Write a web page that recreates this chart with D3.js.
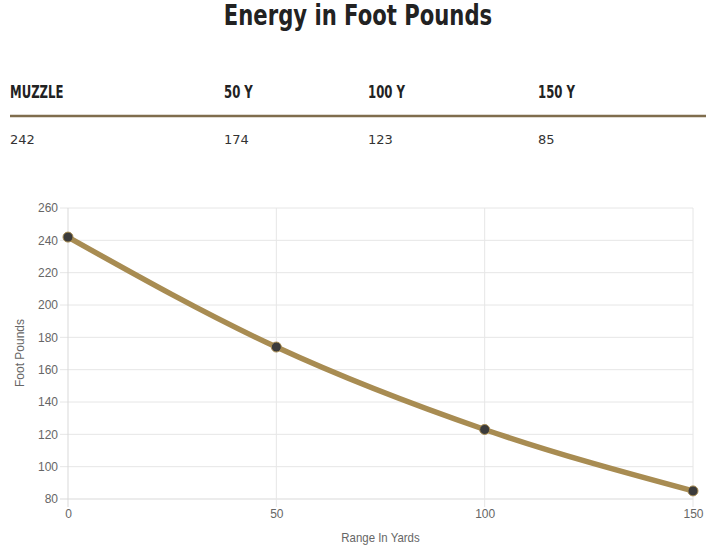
<!DOCTYPE html>
<html>
<head>
<meta charset="utf-8">
<script src="https://cdn.jsdelivr.net/npm/d3@7"></script>
<style>
  body { margin: 0; background: #fff; }
</style>
</head>
<body>
<script>
var svgWidth = 712;
var svgHeight = 558;

// data
var columns = ["MUZZLE", "50 Y", "100 Y", "150 Y"];
var energy = [242, 174, 123, 85];
var ranges = [0, 50, 100, 150];
var yTicks = [80, 100, 120, 140, 160, 180, 200, 220, 240, 260];
var xTicks = [0, 50, 100, 150];

var margin = { top: 208, right: 19, bottom: 59, left: 68 };
var width = svgWidth - margin.left - margin.right;
var height = svgHeight - margin.top - margin.bottom;

var svg = d3.select("body")
    .append("svg")
    .attr("width", svgWidth)
    .attr("height", svgHeight);

// title (condensed look by squeezing horizontally)
svg.append("g")
    .attr("transform", "translate(358, 25) scale(0.73, 1)")
    .append("text")
    .attr("text-anchor", "middle")
    .attr("font-family", "'DejaVu Sans', sans-serif")
    .attr("font-weight", "bold")
    .attr("font-size", 29)
    .attr("fill", "#222")
    .text("Energy in Foot Pounds");

// table
var colX = [10, 224, 368, 538];
columns.forEach(function(c, i) {
    svg.append("g")
        .attr("transform", `translate(${colX[i]}, 98) scale(0.65, 1)`)
        .append("text")
        .attr("font-family", "'DejaVu Sans', sans-serif")
        .attr("font-weight", "bold")
        .attr("font-size", 18)
        .attr("fill", "#222")
        .text(c);
    svg.append("text")
        .attr("x", colX[i])
        .attr("y", 144)
        .attr("font-family", "'DejaVu Sans', sans-serif")
        .attr("font-size", 13)
        .attr("fill", "#333")
        .text(energy[i]);
});

svg.append("line")
    .attr("x1", 10).attr("x2", 706)
    .attr("y1", 116).attr("y2", 116)
    .attr("stroke", "#7f6d4d")
    .attr("stroke-width", 2.5);

var chartGroup = svg.append("g")
    .attr("transform", `translate(${margin.left}, ${margin.top})`);

var x = d3.scaleLinear().domain([0, 150]).range([0, width]);
var y = d3.scaleLinear().domain([80, 260]).range([height, 0]);

// grid lines
chartGroup.selectAll(".hgrid")
    .data(yTicks)
    .enter()
    .append("line")
    .attr("x1", -8).attr("x2", width)
    .attr("y1", d => y(d)).attr("y2", d => y(d))
    .attr("stroke", d => d === 80 ? "#d9d9d9" : "#e6e6e6")
    .attr("stroke-width", 1);

chartGroup.selectAll(".vgrid")
    .data(xTicks)
    .enter()
    .append("line")
    .attr("x1", d => x(d)).attr("x2", d => x(d))
    .attr("y1", 0).attr("y2", height + 8)
    .attr("stroke", d => d === 0 ? "#d9d9d9" : "#e6e6e6")
    .attr("stroke-width", 1);

// axes labels
var leftAxis = d3.axisLeft(y).tickValues(yTicks).tickSize(0).tickPadding(10);
var bottomAxis = d3.axisBottom(x).tickValues(xTicks).tickSize(0).tickPadding(10);

var gy = chartGroup.append("g").call(leftAxis);
var gx = chartGroup.append("g").attr("transform", `translate(0, ${height})`).call(bottomAxis);
[gy, gx].forEach(function(g) {
    g.select(".domain").remove();
    g.selectAll("text")
        .attr("font-family", "'Liberation Sans', Arial, sans-serif")
        .attr("font-size", 12)
        .attr("fill", "#666");
});

svg.append("text")
    .attr("transform", "translate(24, 353) rotate(-90)")
    .attr("text-anchor", "middle")
    .attr("font-family", "'Liberation Sans', Arial, sans-serif")
    .attr("font-size", 12)
    .attr("fill", "#666")
    .text("Foot Pounds");

svg.append("g")
    .attr("transform", `translate(${margin.left + width / 2}, 542) scale(0.88, 1)`)
    .append("text")
    .attr("text-anchor", "middle")
    .attr("font-family", "'Liberation Sans', Arial, sans-serif")
    .attr("font-size", 13)
    .attr("fill", "#666")
    .text("Range In Yards");

// line
var points = ranges.map((r, i) => ({ r: r, v: energy[i] }));
var line = d3.line()
    .x(d => x(d.r))
    .y(d => y(d.v))
    .curve(d3.curveMonotoneX);

chartGroup.append("path")
    .datum(points)
    .attr("d", line)
    .attr("fill", "none")
    .attr("stroke", "#a88c52")
    .attr("stroke-width", 5.5);

chartGroup.selectAll("circle")
    .data(points)
    .enter()
    .append("circle")
    .attr("cx", d => x(d.r))
    .attr("cy", d => y(d.v))
    .attr("r", 5)
    .attr("fill", "#3b3b3b")
    .attr("stroke", "#a88c52")
    .attr("stroke-width", 1);
</script>
</body>
</html>
